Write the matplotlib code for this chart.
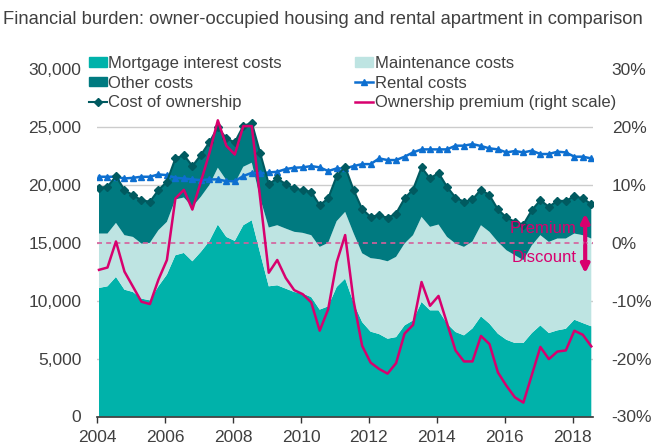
import matplotlib
matplotlib.use("Agg")
import matplotlib.pyplot as plt
import numpy as np
from matplotlib.patches import Patch
from matplotlib.lines import Line2D

plt.rcParams['font.family'] = ['Liberation Sans', 'DejaVu Sans']

# quarterly data, 2004 Q1 - 2018 Q3
start_year = 2004
mortgage = [11090, 11230, 12040, 10940, 10740, 10170, 10020, 11230, 12240, 13910,
            14110, 13390, 14200, 15120, 16560, 15490, 15150, 16500, 16930, 14050,
            11230, 11320, 11030, 10740, 10600, 10310, 9220, 9500, 11170, 11890,
            9800, 8150, 7320, 7110, 6710, 6850, 7860, 8290, 9880, 9160,
            9160, 8010, 7290, 7000, 7600, 8640, 8010, 7140, 6620, 6340,
            6340, 7200, 7860, 7200, 7430, 7570, 8350, 8060, 7780]
maintenance = [4690, 4550, 4660, 4700, 4750, 4750, 4960, 4840, 4550, 4810,
               4780, 4700, 4750, 4840, 4900, 4900, 4950, 5040, 4960, 4760,
               5070, 5180, 5180, 5190, 5240, 5330, 5410, 5480, 5680, 5760,
               6000, 5930, 6340, 6460, 6680, 6920, 7060, 7350, 7340, 7200,
               7400, 7480, 7630, 7630, 7500, 7860, 7920, 7920, 7720, 7570,
               7140, 7570, 7780, 7860, 7920, 7780, 7430, 7580, 7570]
other = [3950, 4030, 4040, 3890, 3600, 3740, 3540, 3460, 3460, 3540,
         3660, 3510, 3600, 3690, 3480, 3600, 3550, 3520, 3450, 3880,
         3750, 4030, 3840, 3740, 3690, 3740, 3600, 3830, 3890, 3890,
         3730, 3820, 3560, 3800, 3750, 3740, 3890, 3940, 4270, 4170,
         4460, 4320, 3970, 3890, 3620, 3080, 3160, 2800, 2830, 2880,
         3080, 3030, 3020, 3030, 3250, 3250, 3230, 3170, 2970]
rental = [20680, 20680, 20680, 20530, 20590, 20680, 20680, 20880, 20820, 20590,
          20530, 20450, 20390, 20450, 20450, 20300, 20300, 20740, 21020, 20970,
          21050, 21110, 21340, 21460, 21490, 21600, 21490, 21170, 21400, 21400,
          21600, 21770, 21770, 22260, 22120, 22120, 22410, 22780, 23040, 23040,
          23040, 23040, 23360, 23360, 23500, 23330, 23130, 23040, 22780, 22900,
          22780, 22930, 22640, 22640, 22840, 22780, 22410, 22410, 22260]
premium = [-4.7, -4.3, 0.2, -5.0, -7.6, -10.2, -10.6, -6.4, -3.0, 7.6,
           9.1, 5.7, 10.5, 15.4, 21.1, 16.7, 15.2, 20.1, 20.1, 7.5,
           -5.2, -3.0, -6.1, -8.2, -8.9, -10.3, -15.2, -11.5, -3.4, 1.3,
           -10.1, -17.8, -20.7, -21.8, -22.6, -20.8, -15.7, -14.2, -6.8, -10.9,
           -9.2, -13.9, -18.6, -20.5, -20.5, -16.1, -17.5, -22.4, -24.7, -26.7,
           -27.6, -22.8, -18.0, -20.1, -18.8, -18.6, -15.2, -15.9, -17.9]

left_ticks = [0, 5000, 10000, 15000, 20000, 25000, 30000]
right_ticks = [-30, -20, -10, 0, 10, 20, 30]
year_ticks = [2004, 2006, 2008, 2010, 2012, 2014, 2016, 2018]

c_mort = '#00b2aa'
c_maint = '#bee4e2'
c_other = '#007a80'
c_own = '#005a60'
c_rent = '#0d6fd0'
c_prem = '#d8006e'
c_text = '#404040'

x = start_year + 0.05 + 0.25 * np.arange(len(mortgage))
own = np.array(mortgage) + np.array(maintenance) + np.array(other)

fig = plt.figure(figsize=(6.64, 4.45), dpi=100)
ax = fig.add_axes([97.3 / 664, 1 - 416.5 / 445, (593 - 97.3) / 664, (416.5 - 68.7) / 445])

for v in left_ticks[1:-1]:
    ax.axhline(v, color='#cccccc', lw=1, zorder=0)

ax.stackplot(x, mortgage, maintenance, other, colors=[c_mort, c_maint, c_other], lw=0, zorder=1)
ax.plot(x, rental, color=c_rent, lw=1.8, marker='^', ms=4.5, zorder=3)
ax.plot(x, own, color=c_own, lw=1.5, marker='D', ms=4, zorder=3)

ax.set_xlim(2004, 2018.6)
ax.set_ylim(0, 30000)
ax.set_xticks(year_ticks)
ax.set_yticks(left_ticks)
ax.set_yticklabels([f"{v:,}" for v in left_ticks])
for s in ['top', 'left', 'right']:
    ax.spines[s].set_visible(False)
ax.spines['bottom'].set_color('#333333')
ax.spines['bottom'].set_linewidth(1.2)
ax.spines['bottom'].set_zorder(5)
ax.tick_params(axis='x', length=4, width=1, color='#333333', labelsize=12.5, labelcolor=c_text, pad=6)
ax.tick_params(axis='y', length=0, labelsize=12.5, labelcolor=c_text, pad=11.5)

ax2 = ax.twinx()
ax2.set_ylim(-30, 30)
ax2.set_yticks(right_ticks)
ax2.set_yticklabels([f"{v}%" for v in right_ticks])
for s in ['top', 'left', 'right', 'bottom']:
    ax2.spines[s].set_visible(False)
ax2.tick_params(axis='y', length=0, labelsize=12.5, labelcolor=c_text, pad=13.5)

ax2.axhline(0, color='#d65f9c', lw=1.2, ls=(0, (3, 2.5)), zorder=2)
ax2.plot(x, premium, color=c_prem, lw=1.8, zorder=4)

# premium / discount markers
ax2.annotate('', xy=(2018.37, 5.0), xytext=(2018.37, 0.3),
             arrowprops=dict(arrowstyle='-|>', color=c_prem, lw=3, mutation_scale=12, shrinkA=0, shrinkB=0))
ax2.annotate('', xy=(2018.37, -5.3), xytext=(2018.37, -0.4),
             arrowprops=dict(arrowstyle='-|>', color=c_prem, lw=3, mutation_scale=12, shrinkA=0, shrinkB=0))
ax2.text(2018.12, 2.4, 'Premium', color=c_prem, fontsize=12, ha='right', va='center')
ax2.text(2018.12, -2.5, 'Discount', color=c_prem, fontsize=12, ha='right', va='center')

handles = [Patch(color=c_mort), Patch(color=c_other),
           Line2D([], [], color=c_own, lw=1.5, marker='D', ms=4),
           Patch(color=c_maint),
           Line2D([], [], color=c_rent, lw=1.8, marker='^', ms=4.5),
           Line2D([], [], color=c_prem, lw=1.8)]
labels = ['Mortgage interest costs', 'Other costs', 'Cost of ownership',
          'Maintenance costs', 'Rental costs', 'Ownership premium (right scale)']
leg = fig.legend(handles, labels, loc='upper left', bbox_to_anchor=(89 / 664, 1 - 56 / 445),
                 ncol=2, frameon=False, fontsize=12, handlelength=1.05, handleheight=0.5,
                 handletextpad=0.12, labelspacing=0.27, columnspacing=4.4,
                 borderpad=0, borderaxespad=0)
for t in leg.get_texts():
    t.set_color(c_text)

fig.text(3 / 664, 1 - 19 / 445, 'Financial burden: owner-occupied housing and rental apartment in comparison',
         fontsize=13.2, color=c_text, ha='left', va='center')

fig.savefig('out.png', dpi=100)
